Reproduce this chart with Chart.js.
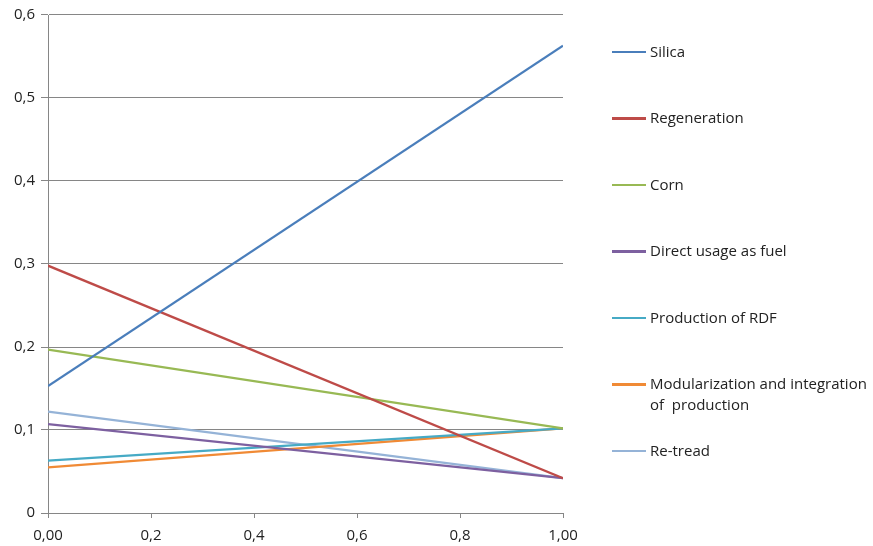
<!DOCTYPE html>
<html lang="en">
<head>
    <meta charset="UTF-8">
    <title>Line chart</title>
    <script src="https://cdn.jsdelivr.net/npm/chart.js"></script>
    <style>
        * {
            margin: 0;
            padding: 0;
            box-sizing: border-box;
        }
        body {
            background: #fff;
            font-family: "Open Sans", sans-serif;
        }
        .wrap {
            position: relative;
            width: 873px;
            height: 546px;
        }
        .legend-row {
            position: absolute;
            left: 612px;
            font-size: 15px;
            color: #222;
            line-height: 21px;
        }
        .legend-row .swatch {
            position: absolute;
            left: 0;
            top: 10px;
            width: 34px;
            height: 2.5px;
        }
        .legend-row .label {
            margin-left: 38px;
            white-space: pre;
        }
    </style>
</head>
<body>
<div class="wrap">
    <canvas id="chart" width="873" height="546"></canvas>
</div>
<script>
    const xValues = [0, 1];
    const xTickLabels = ['0,00', '0,2', '0,4', '0,6', '0,8', '1,00'];
    const yTickLabels = ['0', '0,1', '0,2', '0,3', '0,4', '0,5', '0,6'];

    const seriesNames = [
        'Silica',
        'Regeneration',
        'Corn',
        'Direct usage as fuel',
        'Production of RDF',
        'Modularization and integration\nof  production',
        'Re-tread'
    ];
    const silica = [0.153, 0.563];
    const regeneration = [0.298, 0.042];
    const corn = [0.197, 0.102];
    const directFuel = [0.107, 0.042];
    const productionRdf = [0.063, 0.102];
    const modularization = [0.055, 0.102];
    const retread = [0.122, 0.042];
    const seriesValues = [silica, regeneration, corn, directFuel, productionRdf, modularization, retread];
    const colors = ['#4A7EBB', '#BE4B48', '#98B954', '#7D60A0', '#46AAC5', '#F08A35', '#95B3D7'];

    const datasets = seriesNames.map((name, i) => ({
        label: name,
        data: xValues.map((x, j) => ({ x: x, y: seriesValues[i][j] })),
        borderColor: colors[i],
        borderWidth: 2.25,
        pointRadius: 0,
        fill: false,
        tension: 0
    }));

    const font = { family: '"Open Sans", sans-serif', size: 15 };

    new Chart(document.getElementById('chart'), {
        type: 'line',
        data: { datasets: datasets },
        options: {
            responsive: false,
            animation: false,
            layout: { padding: { left: 0, right: 310, top: 15, bottom: 0 } },
            plugins: {
                legend: { display: false },
                tooltip: { enabled: false }
            },
            scales: {
                x: {
                    type: 'linear',
                    min: 0,
                    max: 1,
                    afterFit: (s) => { s.height = 33; },
                    afterBuildTicks: (s) => {
                        s.ticks = xTickLabels.map((_, i) => ({ value: i * 0.2 }));
                    },
                    ticks: {
                        color: '#222',
                        font: font,
                        padding: 9,
                        maxRotation: 0,
                        autoSkip: false,
                        callback: (v, i) => xTickLabels[i]
                    },
                    grid: { display: true, drawOnChartArea: false, tickLength: 5, color: '#868686' },
                    border: { display: true, color: '#868686', width: 1 }
                },
                y: {
                    min: 0,
                    max: 0.6,
                    afterFit: (s) => { s.width = 48; },
                    afterBuildTicks: (s) => {
                        s.ticks = yTickLabels.map((_, i) => ({ value: i * 0.1 }));
                    },
                    ticks: {
                        color: '#222',
                        font: font,
                        padding: 6,
                        callback: (v, i) => yTickLabels[i]
                    },
                    grid: { color: '#868686', tickLength: 7, lineWidth: 1 },
                    border: { display: true, color: '#868686', width: 1 }
                }
            }
        }
    });

    // legend on the right
    const wrap = document.querySelector('.wrap');
    seriesNames.forEach((name, i) => {
        const row = document.createElement('div');
        row.className = 'legend-row';
        row.style.top = (40.5 + i * 66.5) + 'px';
        const sw = document.createElement('div');
        sw.className = 'swatch';
        sw.style.background = colors[i];
        const lb = document.createElement('div');
        lb.className = 'label';
        lb.textContent = name;
        row.appendChild(sw);
        row.appendChild(lb);
        wrap.appendChild(row);
    });
</script>
</body>
</html>
